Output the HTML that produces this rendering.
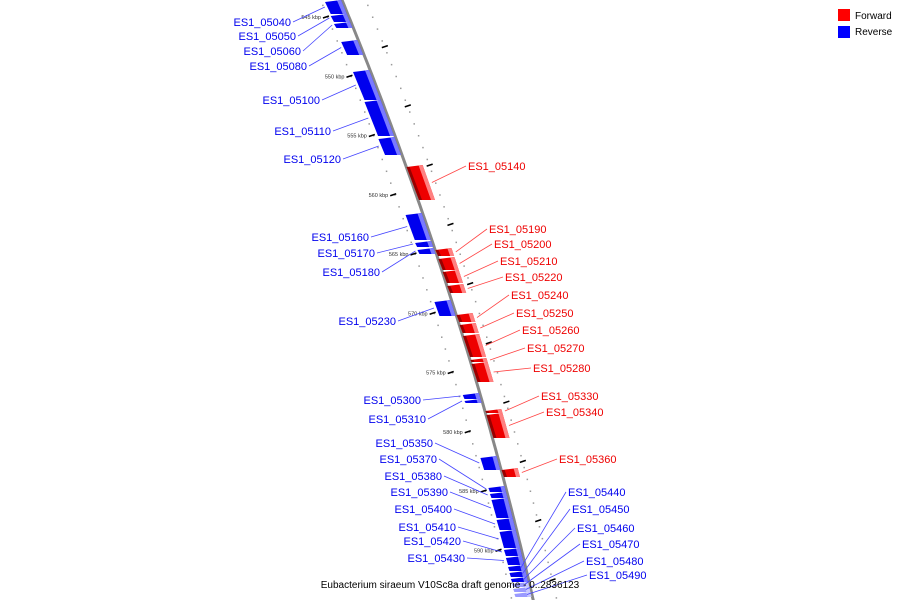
<!DOCTYPE html>
<html><head><meta charset="utf-8"><style>
body{margin:0;background:#fff}
svg{display:block;font-family:"Liberation Sans",sans-serif}
</style></head><body>
<svg id="map" width="900" height="600" viewBox="0 0 900 600">
<rect width="900" height="600" fill="#fff"/>
<g id="dots"></g>
<path id="backbone" fill="none" stroke="#888" stroke-width="3"/>
<g id="genes"></g>
<g id="labels"></g>
<g>
<rect x="838" y="9" width="12" height="12" fill="#f00"/>
<text x="855" y="19" font-size="10" fill="#000">Forward</text>
<rect x="838" y="26" width="12" height="12" fill="#00f"/>
<text x="855" y="35" font-size="10" fill="#000">Reverse</text>
</g>
<text x="450" y="588" font-size="10" text-anchor="middle" fill="#000">Eubacterium siraeum V10Sc8a draft genome - 0..2836123</text>
</svg>
<script>
const geneNames=["ES1_05040","ES1_05050","ES1_05060","ES1_05080","ES1_05100","ES1_05110","ES1_05120","ES1_05140","ES1_05160","ES1_05170","ES1_05180","ES1_05190","ES1_05200","ES1_05210","ES1_05220","ES1_05230","ES1_05240","ES1_05250","ES1_05260","ES1_05270","ES1_05280","ES1_05300","ES1_05310","ES1_05330","ES1_05340","ES1_05350","ES1_05360","ES1_05370","ES1_05380","ES1_05390","ES1_05400","ES1_05410","ES1_05420","ES1_05430","ES1_05440","ES1_05450","ES1_05460","ES1_05470","ES1_05480","ES1_05490"];
const geneStarts=[543.57,544.75,545.42,546.94,549.47,552.00,555.13,557.49,561.54,563.90,564.49,564.49,565.25,566.35,567.53,568.88,569.98,570.82,571.75,573.78,574.11,576.73,577.24,578.08,578.42,582.05,583.06,584.58,585.08,585.59,587.28,588.29,589.81,590.49,591.24,591.75,592.26,592.68,593.10,593.52];
const geneEnds=[544.75,545.42,545.93,548.21,552.00,555.04,556.65,560.44,563.82,564.41,565.00,565.17,566.35,567.45,568.29,570.23,570.74,571.67,573.69,574.11,575.80,577.24,577.57,578.42,580.53,583.23,583.82,585.08,585.59,587.28,588.29,589.81,590.49,591.24,591.75,592.26,592.68,593.10,593.52,593.95];
const geneStrands=["-","-","-","-","-","-","-","+","-","-","-","+","+","+","+","-","+","+","+","+","+","-","-","+","+","-","+","-","-","-","-","-","-","-","-","-","-","-","-","-"];
const tickValues=[545,550,555,560,565,570,575,580,585,590];
const tickLabels=["545 kbp","550 kbp","555 kbp","560 kbp","565 kbp","570 kbp","575 kbp","580 kbp","585 kbp","590 kbp"];
// label layout (x, y, anchor side)
const labelPos=[[291,22],[296,36],[301,51],[307,66],[320,100],[331,131],[341,159],[468,166],[369,237],[375,253],[380,272],[489,229],[494,244],[500,261],[505,277],[396,321],[511,295],[516,313],[522,330],[527,348],[533,368],[421,400],[426,419],[541,396],[546,412],[433,443],[559,459],[437,459],[442,476],[448,492],[452,509],[456,527],[461,541],[465,558],[568,492],[572,509],[577,528],[582,544],[586,561],[589,575]];
const NS="http://www.w3.org/2000/svg";
function yScale(k){return 17+(k-545)*11.85;}
function cx(y){return 342+0.411*y-0.000154*y*y;}
function mk(t,a,p){const e=document.createElementNS(NS,t);for(const k in a)e.setAttribute(k,a[k]);p.appendChild(e);return e;}
// backbone
let d="";for(let y=-5;y<=605;y+=5)d+=(d?"L":"M")+cx(y).toFixed(1)+","+y;
document.getElementById("backbone").setAttribute("d",d);
const dots=document.getElementById("dots");
for(let k=543;k<=594;k+=1){const y=yScale(k);
 const l=mk("rect",{x:cx(y)-22,y:y-0.5,width:1.5,height:1.5,fill:"#999"},dots);
 
 
 const r=mk("rect",{x:cx(y)+23,y:y-0.5,width:1.5,height:1.5,fill:"#999"},dots);
 
 }
tickValues.forEach((v,i)=>{const y=yScale(v);
 const t=mk("line",{x1:cx(y)-26,y1:y+1,x2:cx(y)-20,y2:y-1,stroke:"#000","stroke-width":1.5},dots);
 
 
 const y2=yScale(v+2.5);
 const t2=mk("line",{x1:cx(y2)+21,y1:y2+1,x2:cx(y2)+27,y2:y2-1,stroke:"#000","stroke-width":1.5},dots);
 
 
 const tx=mk("text",{x:cx(y)-28,y:y+2,"font-size":5.5,"text-anchor":"end",fill:"#333"},dots);
 tx.textContent=tickLabels[i];
 
 });
const G=document.getElementById("genes"),L=document.getElementById("labels");
geneNames.forEach((n,i)=>{
 const y1=yScale(geneStarts[i]),y2=yScale(geneEnds[i]),fw=geneStrands[i]==="+";
 const pale=geneStarts[i]>592.6;
 const main=fw?"#ee0000":(pale?"#9a9aff":"#0000ee"),light=fw?"#ff8080":(pale?"#c8c8ff":"#7a7aff"),dark=fw?"#990000":"#0000aa";
 const a=fw?1:-17,b=fw?17:-1;
 const pts=[[cx(y1)+a,y1+2],[cx(y1)+b,y1],[cx(y2)+b,y2],[cx(y2)+a,y2]];
 const g=mk("g",{},G);
 
 
 mk("polygon",{points:pts.map(p=>p.join(",")).join(" "),fill:main},g);
 const sx=fw?b-4:b-4;
 mk("polygon",{points:[[cx(y1)+sx,y1+0.5],[cx(y1)+b,y1],[cx(y2)+b,y2],[cx(y2)+sx,y2]].map(p=>p.join(",")).join(" "),fill:light},g);
 if(fw)mk("polygon",{points:[[cx(y1)+a,y1+2],[cx(y1)+a+3,y1+2],[cx(y2)+a+3,y2],[cx(y2)+a,y2]].map(p=>p.join(",")).join(" "),fill:dark},g);
 const col=fw?"#ee0000":"#0000ee";
 const [lx,ly]=labelPos[i];const ym=(y1+y2)/2;
 const rightSide=lx>cx(ly);
 const tx=rightSide?cx(ym)+(fw?20:-5):cx(ym)-20;
 mk("line",{x1:rightSide?lx-2:lx+2,y1:ly,x2:tx,y2:ym,stroke:fw?"#f44":"#44f","stroke-width":0.8},L);
 const t=mk("text",{x:lx,y:ly+4,"font-size":11,fill:col,"text-anchor":rightSide?"start":"end"},L);
 t.textContent=n;
 
 
});
</script>
</body></html>
